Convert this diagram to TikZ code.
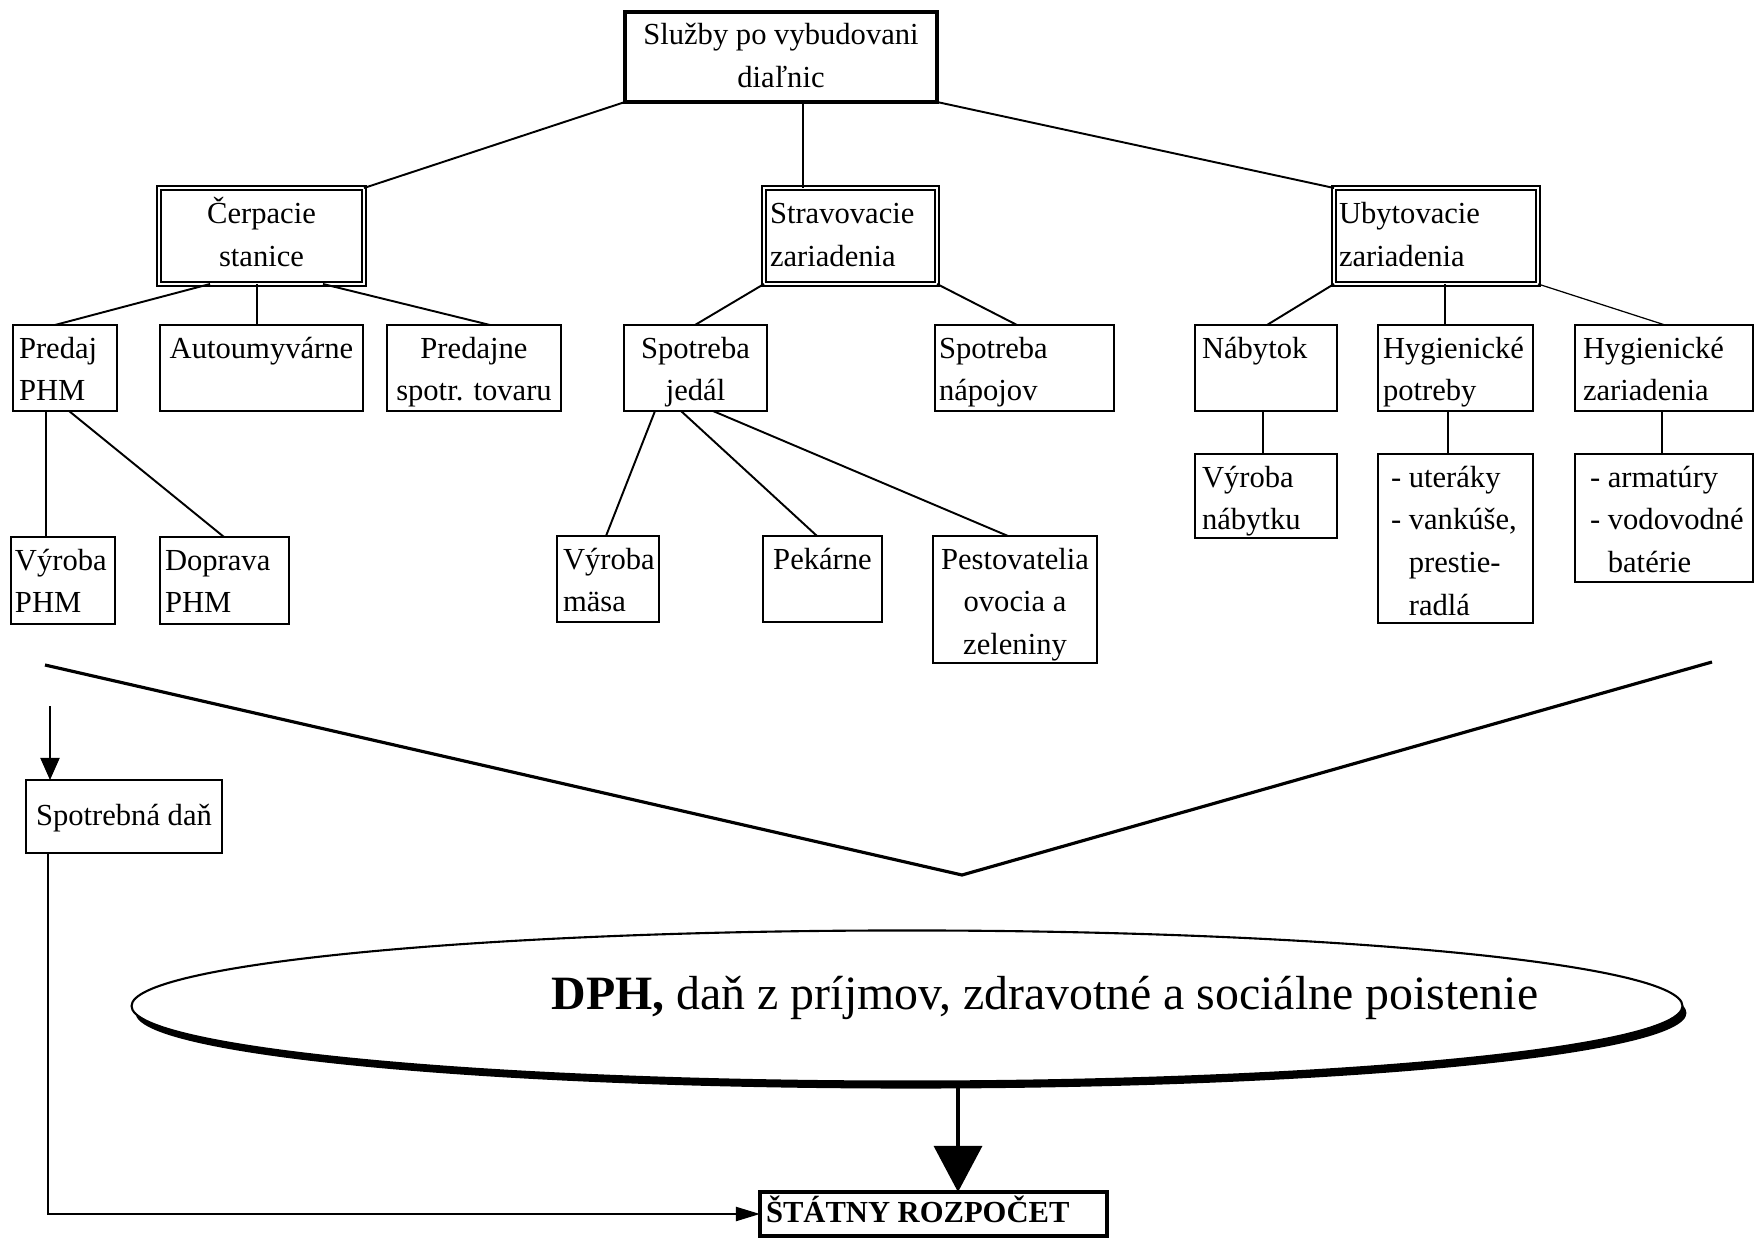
\documentclass[tikz,border=0pt]{standalone}
\usepackage{fontspec}
\setmainfont{Liberation Serif}
\usetikzlibrary{arrows.meta,shapes.geometric,shadows,calc}

% one drawing unit = one pixel of the layout grid
\newlength{\pxu}\setlength{\pxu}{0.01cm}
% box contents: width, height, alignment, text (top aligned / centred)
\newcommand{\cellt}[4]{\parbox[c][#2\pxu][t]{#1\pxu}{#3\vspace*{3\pxu}\strut#4}}
\newcommand{\cellc}[4]{\parbox[c][#2\pxu][c]{#1\pxu}{#3\strut#4\strut}}
\newcommand{\lft}[1]{\raggedright\leftskip=#1\pxu\relax}
\newcommand{\ind}{\phantom{-\ }}

\begin{document}
\fontsize{8.7pt}{12.2pt}\selectfont
\begin{tikzpicture}[x=0.01cm, y=-0.01cm,
  every node/.style={inner sep=0pt, outer sep=0pt, font=\fontsize{8.7pt}{12.2pt}\selectfont},
  box/.style={draw, line width=0.55pt, anchor=north west},
  dbl/.style={draw, double, double distance=0.6pt, line width=0.45pt, anchor=north west},
  conn/.style={line width=0.55pt},
  thinconn/.style={line width=0.35pt},
  vline/.style={line width=0.9pt}]

\fill[white] (0,0) rectangle (1758,1240);
\useasboundingbox (0,0) rectangle (1758,1240);

% ---- root ----
\node[box, line width=1.4pt] (top) at (625,12) {\cellc{312}{90}{\centering}{Služby po vybudovani\\diaľnic}};

% ---- first level ----
\node[dbl] (cerp)  at (159,188)  {\cellc{205}{96}{\centering}{Čerpacie\\stanice}};
\node[dbl] (strav) at (764,188)  {\cellc{173}{96}{\lft{6}}{Stravovacie\\zariadenia}};
\node[dbl] (ubyt)  at (1334,188) {\cellc{204}{96}{\lft{5}}{Ubytovacie\\zariadenia}};

% ---- second level ----
\node[box] (predaj)   at (13,325)   {\cellt{104}{86}{\lft{6}}{Predaj\\PHM}};
\node[box] (auto)     at (160,325)  {\cellt{203}{86}{\centering}{Autoumyvárne}};
\node[box] (predajne) at (387,325)  {\cellt{174}{86}{\centering}{Predajne\\spotr. tovaru}};
\node[box] (jedal)    at (624,325)  {\cellt{143}{86}{\centering}{Spotreba\\jedál}};
\node[box] (napoj)    at (935,325)  {\cellt{179}{86}{\lft{4}}{Spotreba\\nápojov}};
\node[box] (nab)      at (1195,325) {\cellt{142}{86}{\lft{7}}{Nábytok}};
\node[box] (hygp)     at (1378,325) {\cellt{155}{86}{\lft{5}}{Hygienické\\potreby}};
\node[box] (hygz)     at (1575,325) {\cellt{178}{86}{\lft{8}}{Hygienické\\zariadenia}};

% ---- third level ----
\node[box] (vyrphm)  at (11,537)   {\cellt{104}{87}{\lft{4}}{Výroba\\PHM}};
\node[box] (doprava) at (160,537)  {\cellt{129}{87}{\lft{5}}{Doprava\\PHM}};
\node[box] (masa)    at (557,536)  {\cellt{102}{86}{\lft{6}}{Výroba\\mäsa}};
\node[box] (pekarne) at (763,536)  {\cellt{119}{86}{\centering}{Pekárne}};
\node[box] (pest)    at (933,536)  {\cellt{164}{127}{\centering}{Pestovatelia\\ovocia a\\zeleniny}};
\node[box] (vyrnab)  at (1195,454) {\cellt{142}{84}{\lft{7}}{Výroba\\nábytku}};
\node[box] (uter)    at (1378,454) {\cellt{155}{169}{\lft{13}}{- uteráky\\- vankúše,\\\ind prestie-\\\ind radlá}};
\node[box] (armat)   at (1575,454) {\cellt{178}{128}{\lft{15}}{- armatúry\\- vodovodné\\\ind batérie}};

% ---- taxes ----
\node[box] (spdan) at (26,780) {\cellc{196}{73}{\centering}{Spotrebná daň}};
\node[box, line width=1.2pt] (stat) at (760,1192) {\cellc{347}{44}{\lft{6}}{\bfseries ŠTÁTNY ROZPOČET}};

\node[draw, ellipse, line width=0.6pt, fill=white,
      minimum width=15.5cm, minimum height=1.51cm,
      drop shadow={shadow xshift=0.04cm, shadow yshift=-0.07cm, fill=black, opacity=1}]
      (dph) at (907,1006) {};
\node[font=\fontsize{13.6pt}{16pt}\selectfont, anchor=base] (dphtxt) at (1045,1009)
      {\textbf{DPH,} daň z príjmov, zdravotné a sociálne poistenie};

% ---- tree connectors ----
\draw[conn] (top.south west) -- (cerp.north east);
\draw[conn] ($(top.south west)+(178,0)$) -- ($(strav.north west)+(39,0)$);
\draw[conn] (top.south east) -- (ubyt.north west);

\draw[conn] ($(cerp.south west)+(51,0)$)  -- ($(predaj.north west)+(42,0)$);
\draw[conn] ($(cerp.south west)+(98,0)$)  -- ($(auto.north west)+(97,0)$);
\draw[conn] ($(cerp.south west)+(164,0)$) -- ($(predajne.north west)+(103,0)$);

\draw[conn] (strav.south west) -- ($(jedal.north west)+(71,0)$);
\draw[conn] (strav.south east) -- ($(napoj.north west)+(82,0)$);

\draw[conn] (ubyt.south west) -- ($(nab.north west)+(72,0)$);
\draw[conn] ($(ubyt.south west)+(111,0)$) -- ($(hygp.north west)+(67,0)$);
\draw[thinconn] (ubyt.south east) -- ($(hygz.north west)+(90,0)$);

\draw[conn] ($(predaj.south west)+(33,0)$) -- ($(vyrphm.north west)+(35,0)$);
\draw[conn] ($(predaj.south west)+(56,0)$) -- ($(doprava.north west)+(64,0)$);

\draw[conn] ($(jedal.south west)+(31,0)$) -- ($(masa.north west)+(49,0)$);
\draw[conn] ($(jedal.south west)+(57,0)$) -- ($(pekarne.north west)+(54,0)$);
\draw[conn] ($(jedal.south west)+(89,0)$) -- ($(pest.north west)+(75,0)$);

\draw[conn] ($(nab.south west)+(68,0)$)  -- ($(vyrnab.north west)+(68,0)$);
\draw[conn] ($(hygp.south west)+(70,0)$) -- ($(uter.north west)+(70,0)$);
\draw[conn] ($(hygz.south west)+(87,0)$) -- ($(armat.north west)+(87,0)$);

% ---- collecting wedge ----
\coordinate (vl) at (45,665);
\coordinate (vb) at (962,875);
\coordinate (vr) at (1712,662);
\draw[vline] (vl) -- (vb) -- (vr);

% ---- flows into the budget ----
\coordinate (sdin) at (50,706);
\draw[conn, -{Triangle[width=0.19cm,length=0.22cm]}] (sdin) -- (sdin |- spdan.north);
\draw[conn, -{Triangle[width=0.14cm,length=0.24cm]}] ($(spdan.south west)+(22,0)$) |- (stat.west);

\coordinate (dphout) at (958,1082);
\draw[vline, -{Triangle[width=0.48cm,length=0.46cm]}] (dphout) -- (dphout |- stat.north);

\end{tikzpicture}
\end{document}
